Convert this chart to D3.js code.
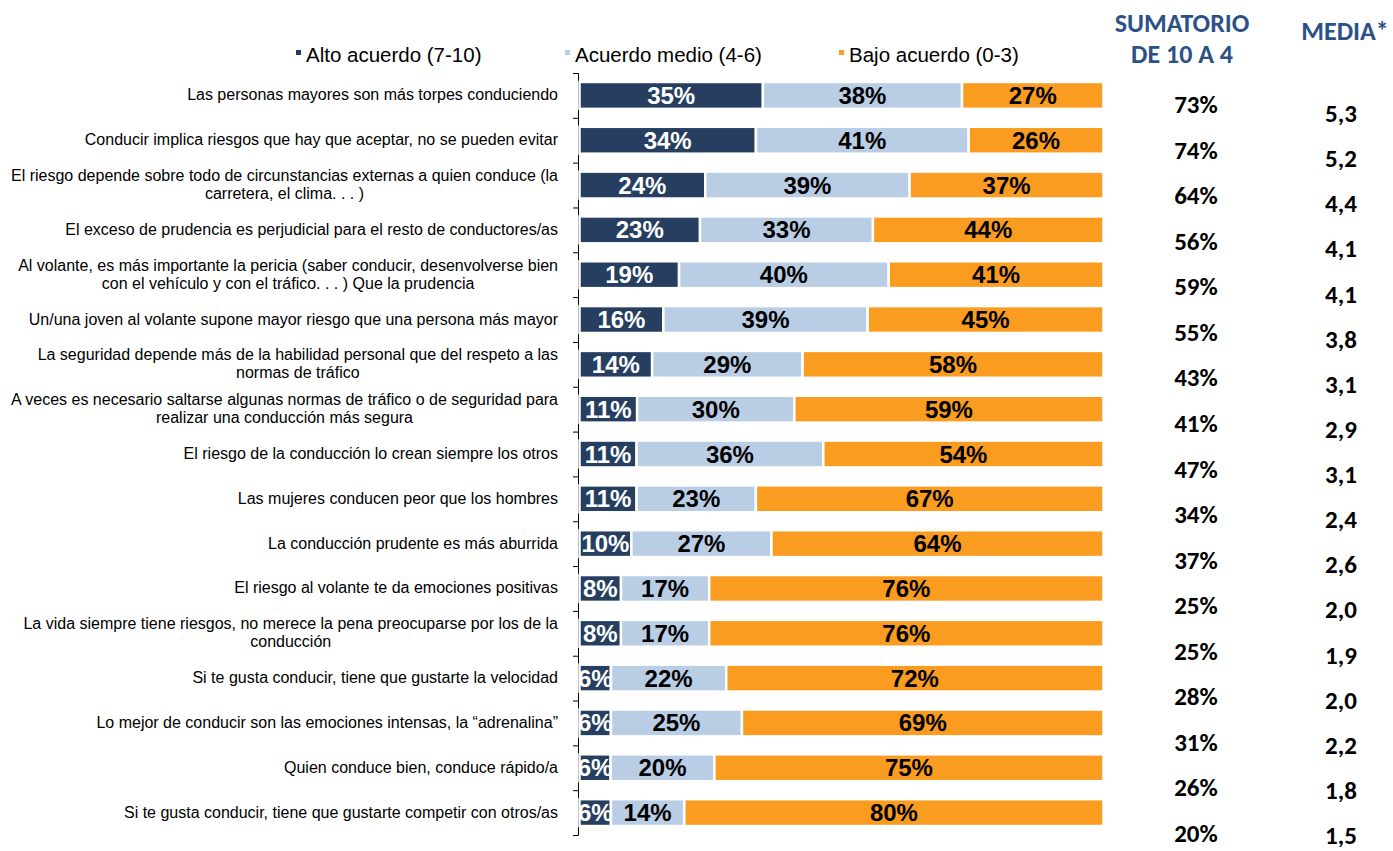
<!DOCTYPE html>
<html>
<head>
<meta charset="utf-8">
<script src="https://cdn.jsdelivr.net/npm/d3@7"></script>
<style>
  body { margin: 0; background: #fff; }
  svg { display: block; }
</style>
</head>
<body>
<div id="chart"></div>
<script>
// statements (top to bottom)
var categories = [
  ["Las personas mayores son más torpes conduciendo"],
  ["Conducir implica riesgos que hay que aceptar, no se pueden evitar"],
  ["El riesgo depende sobre todo de circunstancias externas a quien conduce (la", "carretera, el clima. . . )"],
  ["El exceso de prudencia es perjudicial para el resto de conductores/as"],
  ["Al volante, es más importante la pericia (saber conducir, desenvolverse bien", "con el vehículo y con el tráfico. . . ) Que la prudencia"],
  ["Un/una joven al volante supone mayor riesgo que una persona más mayor"],
  ["La seguridad depende más de la habilidad personal que del respeto a las", "normas de tráfico"],
  ["A veces es necesario saltarse algunas normas de tráfico o de seguridad para", "realizar una conducción más segura"],
  ["El riesgo de la conducción lo crean siempre los otros"],
  ["Las mujeres conducen peor que los hombres"],
  ["La conducción prudente es más aburrida"],
  ["El riesgo al volante te da emociones positivas"],
  ["La vida siempre tiene riesgos, no merece la pena preocuparse por los de la", "conducción"],
  ["Si te gusta conducir, tiene que gustarte la velocidad"],
  ["Lo mejor de conducir son las emociones intensas, la “adrenalina”"],
  ["Quien conduce bien, conduce rápido/a"],
  ["Si te gusta conducir, tiene que gustarte competir con otros/as"]
];

// series values (%)
var alto  = [35, 34, 24, 23, 19, 16, 14, 11, 11, 11, 10, 8, 8, 6, 6, 6, 6];
var medio = [38, 41, 39, 33, 40, 39, 29, 30, 36, 23, 27, 17, 17, 22, 25, 20, 14];
var bajo  = [27, 26, 37, 44, 41, 45, 58, 59, 54, 67, 64, 76, 76, 72, 69, 75, 80];

// right hand columns
var sumatorio = [73, 74, 64, 56, 59, 55, 43, 41, 47, 34, 37, 25, 25, 28, 31, 26, 20];
var media = ["5,3", "5,2", "4,4", "4,1", "4,1", "3,8", "3,1", "2,9", "3,1", "2,4", "2,6", "2,0", "1,9", "2,0", "2,2", "1,8", "1,5"];

var seriesKeys = ["alto", "medio", "bajo"];
var seriesNames = ["Alto acuerdo (7-10)", "Acuerdo medio (4-6)", "Bajo acuerdo (0-3)"];
var colors = ["#263f61", "#b9cde5", "#f99c1f"];
var textColors = ["#ffffff", "#000000", "#000000"];

var svgWidth = 1393;
var svgHeight = 851;

var svg = d3.select("#chart").append("svg")
  .attr("width", svgWidth)
  .attr("height", svgHeight);

// build rows for the stack
var rows = categories.map(function(c, i) {
  return { idx: i, alto: alto[i], medio: medio[i], bajo: bajo[i] };
});

var stack = d3.stack()
  .keys(seriesKeys)
  .offset(d3.stackOffsetExpand);
var stacked = stack(rows);

// scales
var y = d3.scaleBand()
  .domain(d3.range(categories.length))
  .range([73, 835])
  .paddingInner(0.4)
  .paddingOuter(0.2);

var x = d3.scaleLinear()
  .domain([0, 1])
  .range([579.5, 1103.5]);

// axis with ticks on category boundaries
var yEdge = d3.scaleLinear()
  .domain([0, categories.length])
  .range([73, 835]);

svg.append("g")
  .attr("transform", "translate(578,0)")
  .call(d3.axisLeft(yEdge).ticks(categories.length).tickSize(5).tickSizeOuter(5).tickFormat(""))
  .call(function(g) {
    g.selectAll("path, line").attr("stroke", "#000").attr("stroke-width", 1);
  });

// bars
svg.append("defs").append("clipPath")
  .attr("id", "plotclip")
  .append("rect")
  .attr("x", 578.5).attr("y", 60).attr("width", 540).attr("height", 790);

var layers = svg.append("g").selectAll("g")
  .data(stacked)
  .enter()
  .append("g")
  .attr("fill", function(d, i) { return colors[i]; });

layers.selectAll("rect")
  .data(function(d) { return d; })
  .enter()
  .append("rect")
  .attr("x", function(d) { return x(d[0]); })
  .attr("y", function(d) { return y(d.data.idx); })
  .attr("width", function(d) { return x(d[1]) - x(d[0]); })
  .attr("height", y.bandwidth())
  .attr("stroke", "#fff")
  .attr("stroke-width", 2.5);

// value labels inside bars
var labelGroup = svg.append("g").attr("clip-path", "url(#plotclip)");
stacked.forEach(function(layer, li) {
  labelGroup.selectAll(".lab" + li)
    .data(layer)
    .enter()
    .append("text")
    .attr("x", function(d) { return (x(d[0]) + x(d[1])) / 2; })
    .attr("y", function(d) { return y(d.data.idx) + y.bandwidth() / 2 + 8.5; })
    .attr("text-anchor", "middle")
    .attr("font-family", "Liberation Sans, Arial, sans-serif")
    .attr("font-weight", "bold")
    .attr("font-size", "24px")
    .attr("fill", textColors[li])
    .text(function(d) { return d.data[layer.key] + "%"; });
});

// category labels
var catGroup = svg.append("g")
  .attr("font-family", "Liberation Sans, Arial, sans-serif")
  .attr("font-size", "16px")
  .attr("fill", "#000");

categories.forEach(function(lines, i) {
  var cy = y(i) + y.bandwidth() / 2;
  var t = catGroup.append("text").attr("text-anchor", "middle");
  var spans = lines.map(function(line, j) {
    return t.append("tspan")
      .attr("y", cy + 5 + (j - (lines.length - 1) / 2) * 18)
      .text(line);
  });
  var maxW = d3.max(spans, function(s) { return s.node().getComputedTextLength(); });
  spans.forEach(function(s) { s.attr("x", 558 - maxW / 2); });
});

// legend
var legendX = [296, 565, 839];
var legend = svg.append("g")
  .attr("font-family", "Liberation Sans, Arial, sans-serif")
  .attr("font-size", "20.5px");
seriesNames.forEach(function(name, i) {
  legend.append("rect")
    .attr("x", legendX[i]).attr("y", 50)
    .attr("width", 5).attr("height", 5)
    .attr("fill", colors[i]);
  legend.append("text")
    .attr("x", legendX[i] + 10).attr("y", 62)
    .attr("fill", "#000")
    .text(name);
});

// right columns
var headFont = "Carlito, Calibri, Lato, sans-serif";
var headColor = "#2c5187";
var headSize = "26px";
var valSize = "25px";
svg.append("text")
  .attr("x", 1182).attr("y", 32)
  .attr("text-anchor", "middle")
  .attr("font-family", headFont).attr("font-weight", "bold").attr("font-size", headSize)
  .attr("fill", headColor)
  .text("SUMATORIO");
svg.append("text")
  .attr("x", 1182).attr("y", 63)
  .attr("text-anchor", "middle")
  .attr("font-family", headFont).attr("font-weight", "bold").attr("font-size", headSize)
  .attr("fill", headColor)
  .text("DE 10 A 4");
svg.append("text")
  .attr("x", 1345).attr("y", 40)
  .attr("text-anchor", "middle")
  .attr("font-family", headFont).attr("font-weight", "bold").attr("font-size", headSize)
  .attr("fill", headColor)
  .text("MEDIA*");

var ySum = d3.scalePoint()
  .domain(d3.range(sumatorio.length))
  .range([113, 842]);
var yMedia = d3.scalePoint()
  .domain(d3.range(media.length))
  .range([122, 844]);

svg.append("g").selectAll("text")
  .data(sumatorio)
  .enter()
  .append("text")
  .attr("x", 1196)
  .attr("y", function(d, i) { return ySum(i); })
  .attr("text-anchor", "middle")
  .attr("font-family", headFont).attr("font-weight", "bold").attr("font-size", valSize)
  .attr("fill", "#000")
  .text(function(d) { return d + "%"; });

svg.append("g").selectAll("text")
  .data(media)
  .enter()
  .append("text")
  .attr("x", 1341)
  .attr("y", function(d, i) { return yMedia(i); })
  .attr("text-anchor", "middle")
  .attr("font-family", headFont).attr("font-weight", "bold").attr("font-size", valSize)
  .attr("fill", "#000")
  .text(function(d) { return d; });
</script>
</body>
</html>
